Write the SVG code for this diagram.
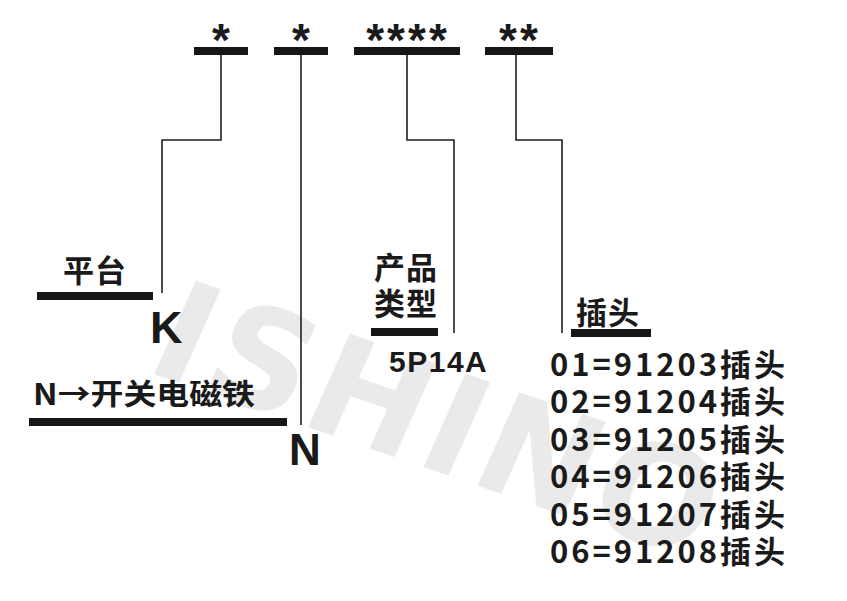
<svg xmlns="http://www.w3.org/2000/svg" width="847" height="601" viewBox="0 0 847 601">
<style>
.bar{fill:#161616}
.ln{fill:none;stroke:#1e1e1e;stroke-width:1.6}
.lat{font-family:"Liberation Sans",Arial,sans-serif;font-weight:bold;fill:#1a1a1a}
.cjk{font-family:"Noto Sans CJK SC","Noto Sans",sans-serif;font-weight:bold;fill:#1a1a1a}
.star{font-family:"Liberation Sans",Arial,sans-serif;font-weight:bold;fill:#1a1a1a;font-size:46px;text-anchor:middle}
.wm{font-family:"DejaVu Sans",sans-serif;font-weight:bold;fill:#eaeaea;font-size:140px}
</style>
<rect width="847" height="601" fill="#ffffff"/>
<text class="wm" transform="translate(142,370) rotate(19) skewX(-5)" letter-spacing="5">ISHINO</text>

<g id="connectors">
<polyline class="ln" points="221,54 221,140 162,140 162,293"/>
<polyline class="ln" points="301,54 301,425"/>
<polyline class="ln" points="407,54 407,140 454,140 454,333"/>
<polyline class="ln" points="516,54 516,140 562,140 562,333"/>
</g>

<g id="code1">
<rect class="bar" x="194" y="47" width="54" height="8"/>
<text class="star" x="221" y="56">*</text>
</g>
<g id="code2">
<rect class="bar" x="274" y="47" width="54" height="8"/>
<text class="star" x="301" y="56">*</text>
</g>
<g id="code3">
<rect class="bar" x="354" y="47" width="106" height="8"/>
<text class="star" x="408" y="56" letter-spacing="3">****</text>
</g>
<g id="code4">
<rect class="bar" x="485" y="47" width="68" height="8"/>
<text class="star" x="520" y="56" letter-spacing="3">**</text>
</g>

<g id="platform">
<text class="cjk" x="63" y="282" font-size="31" letter-spacing="1">平台</text>
<rect class="bar" x="37" y="292" width="116" height="8"/>
<text class="lat" x="150" y="343" font-size="45">K</text>
</g>

<g id="magnet">
<text class="cjk" x="33" y="405" font-size="29" textLength="222" lengthAdjust="spacingAndGlyphs">N→开关电磁铁</text>
<rect class="bar" x="29" y="418" width="258" height="8"/>
<text class="lat" x="289" y="465" font-size="44">N</text>
</g>

<g id="type">
<text class="cjk" x="374" y="279" font-size="31" letter-spacing="1">产品</text>
<text class="cjk" x="374" y="315" font-size="31" letter-spacing="1">类型</text>
<rect class="bar" x="371" y="328" width="67" height="8"/>
<text class="lat" x="389" y="372" font-size="30" letter-spacing="1.5">5P14A</text>
</g>

<g id="plug">
<text class="cjk" x="576" y="324" font-size="31" letter-spacing="1">插头</text>
<rect class="bar" x="571" y="329" width="80" height="8"/>
<g class="cjk" font-size="31">
<text x="550" y="376" textLength="235" lengthAdjust="spacing">01=91203插头</text>
<text x="550" y="413" textLength="235" lengthAdjust="spacing">02=91204插头</text>
<text x="550" y="451" textLength="235" lengthAdjust="spacing">03=91205插头</text>
<text x="550" y="488" textLength="235" lengthAdjust="spacing">04=91206插头</text>
<text x="550" y="526" textLength="235" lengthAdjust="spacing">05=91207插头</text>
<text x="550" y="563" textLength="235" lengthAdjust="spacing">06=91208插头</text>
</g>
</g>
</svg>
